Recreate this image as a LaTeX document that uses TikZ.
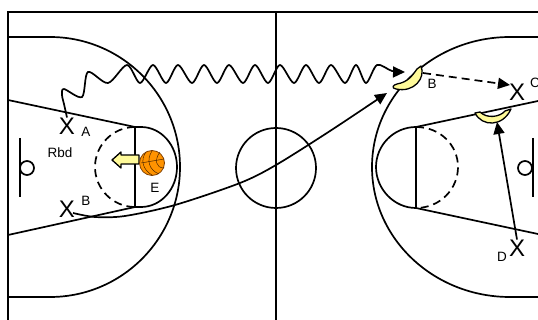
\documentclass[tikz,border=0pt]{standalone}
\usepackage{fontspec}
\setmainfont{Liberation Sans}
\usetikzlibrary{arrows.meta}

\begin{document}
\begin{tikzpicture}[x=1pt,y=-1pt,every node/.style={font=\fontsize{13.5}{15}\selectfont,inner sep=0pt}]
  \tikzstyle{court} = [line width=1.7pt, black]
  \tikzstyle{courtdash} = [line width=1.7pt, dash pattern=on 8pt off 5pt]
  \tikzstyle{ring} = [circle, draw, line width=1.7pt]
  \tikzstyle{player} = [font=\fontsize{24}{26}\selectfont]
  \tikzstyle{screen} = [fill=yellow!40, draw=black, line width=1.3pt, line join=round]
  \tikzstyle{arrow} = [-{Triangle[length=12pt,width=11pt]}, line width=1.7pt]

  \useasboundingbox (0,0) rectangle (538,320);
  \clip (0,0) rectangle (538,320);

  % Floor: frame, centre line, three-point arcs, lanes
  \draw[line width=2.2pt] (8,320) -- (8,12) -- (538,12);
  \draw[line width=2.2pt] (276,12) -- (276,320);
  \node (centercircle) [ring, minimum size=80pt] at (276,168) {};
  \draw[court] (8,37) -- (50,37) .. controls (121.8,37) and (180,95.2) .. (180,167)
    .. controls (180,238.8) and (121.8,297) .. (50,297) -- (8,297);
  \draw[court] (538,37) -- (510,37) .. controls (433.8,37) and (372,95.2) .. (372,167)
    .. controls (372,238.8) and (433.8,297) .. (510,297) -- (538,297);

  \draw[court] (8,100) -- (135,127) -- (135,207) -- (8,235);
  \draw[court] (135,127) -- (141,127) .. controls (161,127) and (177,145) .. (177,167)
    .. controls (177,189) and (161,207) .. (141,207) -- (135,207);
  \draw[courtdash] (135,127) .. controls (113,127) and (95,145) .. (95,167)
    .. controls (95,189) and (113,207) .. (135,207);
  \draw[court] (20,138) -- (20,197);
  \node (lefthoop) [ring, minimum size=14pt] at (27,168) {};

  \draw[court] (538,101) -- (416,127) -- (416,208) -- (538,234);
  \draw[court] (416,127) .. controls (394,127) and (376,145) .. (376,167)
    .. controls (376,189) and (394,208) .. (416,208);
  \draw[courtdash] (416,127) .. controls (440,127) and (458,145) .. (458,167)
    .. controls (458,189) and (440,208) .. (416,208);
  \draw[court] (533,138) -- (533,197);
  \node (righthoop) [ring, minimum size=14pt] at (525,168) {};

  % Players and labels
  \node (xa) [player] at (67,126) {X};
  \node (xb) [player] at (67,209) {X};
  \node (xc) [player] at (517,92) {X};
  \node (xd) [player] at (517,248) {X};
  \node (laba) at (86,132) {A};
  \node (labb) at (86,201) {B};
  \node (labrbd) at (60,153) {Rbd};
  \node (labe) at (155,188) {E};
  \node (labscreen) at (432,84) {B};
  \node (labc) at (535,83) {C};
  \node (labd) at (502,257) {D};

  % Screens
  \filldraw[screen] (421,66) .. controls (426,78) and (414,93) .. (396,89)
    .. controls (391,88) and (393,85) .. (397,84)
    .. controls (408,82) and (412,76) .. (417,69) -- cycle;
  \filldraw[screen] (475,113) .. controls (482,127) and (503,127) .. (511,109)
    -- (505,111) .. controls (500,117) and (487,119) .. (480,112) -- cycle;
  \coordinate (screenb) at (405,72);
  \coordinate (screenbout) at (423,73);
  \coordinate (screenbin) at (387,93);
  \coordinate (screend) at (497,122);
  \coordinate (screenc) at (510,85);

  % Ball and pass out
  \filldraw[screen] (139,155) -- (121,155) -- (121,152)
    -- (112,160) -- (121,168) -- (121,164) -- (139,164) -- cycle;
  \node (ball) [circle, draw=orange!50!black, fill=orange!85!yellow, line width=.8pt, minimum size=25pt] at (152,163) {};
  \draw[orange!30!black, line width=.5pt] (146,152) .. controls (140,160) and (143,170) .. (152,175);
  \draw[orange!30!black, line width=.5pt] (152,151) .. controls (146,160) and (149,170) .. (159,174);
  \draw[orange!30!black, line width=.5pt] (160,152) .. controls (154,160) and (156,168) .. (164,168);
  \draw[orange!30!black, line width=.5pt] (141,163) -- (164,159);

  % Cuts and passes
  \coordinate (passstart) at (73,213);
  \draw[arrow] plot[smooth] coordinates {(passstart) (95,217) (125,216) (175,205) (240,183)
    (276,165) (330,131) (screenbin)};
  \draw[arrow] plot[smooth] coordinates {(xa.north) (64,104) (62,95) (64,89) (82,97) (88,72) (108,83)
    (127,65) (140,83) (153,65) (166,83) (178,65) (192,83) (204,65) (217,83) (229,65) (243,83)
    (255,65) (268,83) (280,65) (294,83) (306,65) (319,83) (331,65) (345,83) (356,65) (366,83)
    (377,65) (392,71) (screenb)};
  \draw[arrow, dash pattern=on 8pt off 5pt] (screenbout) -- (screenc);
  \draw[arrow] (xd.north) -- (screend);
\end{tikzpicture}
\end{document}
